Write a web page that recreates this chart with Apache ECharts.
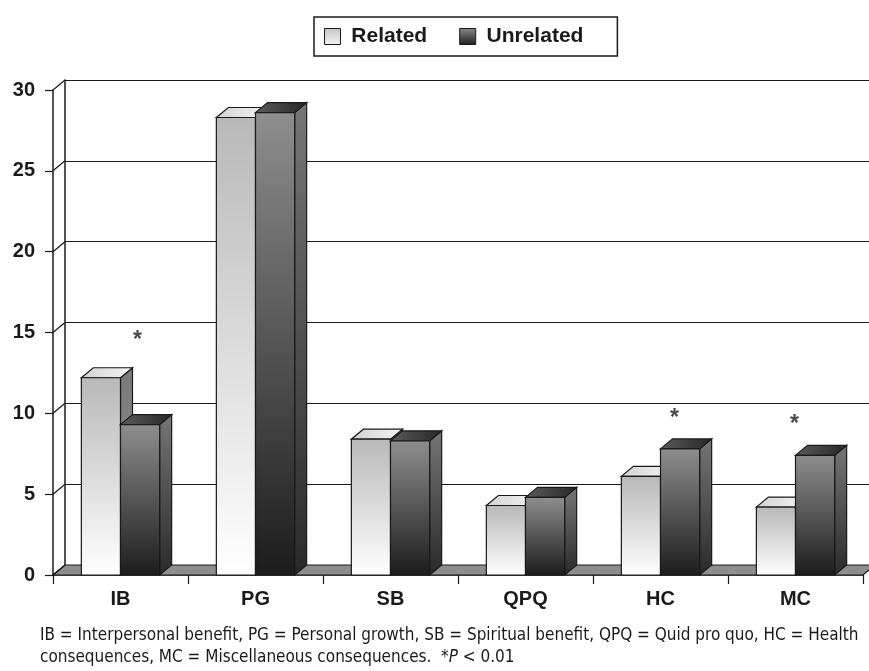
<!DOCTYPE html>
<html>
<head>
<meta charset="utf-8">
<script src="https://cdn.jsdelivr.net/npm/echarts@6/dist/echarts.min.js"></script>
<style>
  html, body { margin: 0; padding: 0; background: #fff; }
  #chart { width: 869px; height: 671px; }
</style>
</head>
<body>
<div id="chart"></div>
<script>
// data
var categories = ['IB', 'PG', 'SB', 'QPQ', 'HC', 'MC'];
var related = [12.2, 28.3, 8.4, 4.3, 6.1, 4.2];
var unrelated = [9.3, 28.6, 8.3, 4.8, 7.8, 7.4];
var seriesNames = ['Related', 'Unrelated'];
var yTicks = [0, 5, 10, 15, 20, 25, 30];
// significance marks: category index and height (in axis units)
var starCats = [0, 4, 5];
var starHeights = [14.5, 9.7, 9.3];
var starShift = [17, 14, -1];

var DX = 12, DY = 10;        // 3d depth offset in px
var BAR_RATIO = 0.29;
var FONT = '"Liberation Sans", Arial, sans-serif';
var NOTE_FONT = '"DejaVu Sans Condensed", "Liberation Sans Narrow", sans-serif';

var myChart = echarts.init(document.getElementById('chart'));

function grad(x2, y2, c1, c2) {
  return new echarts.graphic.LinearGradient(0, 0, x2, y2, [
    { offset: 0, color: c1 },
    { offset: 1, color: c2 }
  ]);
}

var looks = [
  {
    front: grad(0, 1, '#b8b8b8', '#ffffff'),
    top: grad(1, 0, '#d2d2d2', '#f4f4f4'),
    side: grad(0, 1, '#7a7a7a', '#949494'),
    shift: -1
  },
  {
    front: grad(0, 1, '#8e8e8e', '#1c1c1c'),
    top: grad(1, 0, '#5c5c5c', '#262626'),
    side: grad(0, 1, '#767676', '#2a2a2a'),
    shift: 0
  }
];

function barRenderer(look) {
  return function (params, api) {
    var cat = api.value(0);
    var v = api.value(1);
    var base = api.coord([cat, 0]);
    var top = api.coord([cat, v]);
    var bw = api.size([1, 0])[0] * BAR_RATIO;
    var x0 = base[0] + look.shift * bw;
    var x1 = x0 + bw;
    var yt = top[1], yb = base[1];
    var line = { stroke: '#1a1a1a', lineWidth: 1.2 };
    return {
      type: 'group',
      children: [
        {
          type: 'polygon',
          shape: { points: [[x1, yt], [x1 + DX, yt - DY], [x1 + DX, yb - DY], [x1, yb]] },
          style: Object.assign({ fill: look.side }, line)
        },
        {
          type: 'polygon',
          shape: { points: [[x0, yt], [x1, yt], [x1 + DX, yt - DY], [x0 + DX, yt - DY]] },
          style: Object.assign({ fill: look.top }, line)
        },
        {
          type: 'rect',
          shape: { x: x0, y: yt, width: bw, height: yb - yt },
          style: Object.assign({ fill: look.front }, line)
        }
      ]
    };
  };
}

var barSeries = [related, unrelated].map(function (vals, i) {
  return {
    name: seriesNames[i],
    type: 'custom',
    xAxisIndex: 0,
    yAxisIndex: 0,
    z: 3 + i,
    renderItem: barRenderer(looks[i]),
    encode: { x: 0, y: 1 },
    data: vals.map(function (v, k) { return [k, v]; })
  };
});

var option = {
  backgroundColor: '#fff',
  animation: false,
  legend: {
    left: 314,
    top: 17,
    orient: 'horizontal',
    padding: [9, 34, 9, 10],
    borderColor: '#1a1a1a',
    borderWidth: 1.5,
    itemWidth: 16,
    itemHeight: 16,
    itemGap: 32,
    icon: 'rect',
    selectedMode: false,
    formatter: ' {name}',
    textStyle: { fontFamily: FONT, fontWeight: 'bold', fontSize: 21, color: '#1a1a1a' },
    data: [
      { name: 'Related', itemStyle: { color: grad(0, 1, '#c4c4c4', '#f4f4f4'), borderColor: '#1a1a1a', borderWidth: 1 } },
      { name: 'Unrelated', itemStyle: { color: grad(0, 1, '#8a8a8a', '#1e1e1e'), borderColor: '#1a1a1a', borderWidth: 1 } }
    ]
  },
  grid: [
    { left: 53, right: 6, top: 90, bottom: 96 },
    { left: 65, right: -6, top: 80, bottom: 106 }
  ],
  xAxis: [
    {
      type: 'category',
      gridIndex: 0,
      data: categories,
      axisLine: { lineStyle: { color: '#1a1a1a', width: 1.5 } },
      axisTick: { show: true, interval: 0, length: 9, lineStyle: { color: '#1a1a1a', width: 1.2 } },
      axisLabel: { margin: 14, fontFamily: FONT, fontWeight: 'bold', fontSize: 20, color: '#1a1a1a' }
    },
    { type: 'category', gridIndex: 1, data: categories, show: false }
  ],
  yAxis: [
    {
      type: 'value',
      gridIndex: 0,
      min: 0, max: 30, interval: 5,
      axisLine: { show: true, lineStyle: { color: '#1a1a1a', width: 1.5 } },
      axisTick: { show: true, length: 8, lineStyle: { color: '#1a1a1a', width: 1.2 } },
      splitLine: { show: false },
      axisLabel: { margin: 18, fontFamily: FONT, fontWeight: 'bold', fontSize: 20, color: '#1a1a1a' }
    },
    {
      type: 'value',
      gridIndex: 1,
      min: 0, max: 30, interval: 5,
      axisLine: { show: true, lineStyle: { color: '#1a1a1a', width: 1.5 } },
      axisTick: { show: false },
      axisLabel: { show: false },
      splitLine: { show: true, lineStyle: { color: '#1a1a1a', width: 1.2 } }
    }
  ],
  series: [
    {
      // floor of the plot
      type: 'custom',
      silent: true,
      z: 1,
      xAxisIndex: 0,
      yAxisIndex: 0,
      renderItem: function (params, api) {
        var cs = params.coordSys;
        var y0 = api.coord([0, 0])[1];
        return {
          type: 'polygon',
          shape: { points: [[cs.x, y0], [cs.x + cs.width, y0], [cs.x + cs.width + DX, y0 - DY], [cs.x + DX, y0 - DY]] },
          style: { fill: '#8e8e8e', stroke: '#1a1a1a', lineWidth: 1.2 }
        };
      },
      data: [[0, 0]]
    },
    {
      // diagonal links from front ticks to back wall
      type: 'custom',
      silent: true,
      z: 2,
      xAxisIndex: 0,
      yAxisIndex: 0,
      renderItem: function (params, api) {
        var cs = params.coordSys;
        var y = api.coord([0, api.value(1)])[1];
        return {
          type: 'line',
          shape: { x1: cs.x, y1: y, x2: cs.x + DX, y2: y - DY },
          style: { stroke: '#1a1a1a', lineWidth: 1.2 }
        };
      },
      encode: { x: 0, y: 1 },
      data: yTicks.map(function (t) { return [0, t]; })
    }
  ].concat(barSeries).concat([
    {
      type: 'scatter',
      xAxisIndex: 0,
      yAxisIndex: 0,
      symbolSize: 0,
      z: 6,
      silent: true,
      label: {
        show: true,
        position: 'inside',
        formatter: '*',
        fontFamily: FONT,
        fontWeight: 'bold',
        fontSize: 23,
        color: '#1a1a1a'
      },
      data: starCats.map(function (c, k) {
        return { value: [c, starHeights[k]], label: { offset: [starShift[k], 0] } };
      })
    }
  ]),
  graphic: [
    {
      type: 'text',
      left: 40,
      top: 627,
      style: {
        text: 'IB = Interpersonal benefit, PG = Personal growth, SB = Spiritual benefit, QPQ = Quid pro quo, HC = Health',
        font: '17px ' + NOTE_FONT,
        fill: '#1a1a1a'
      }
    },
    {
      type: 'text',
      left: 40,
      top: 649,
      style: {
        text: 'consequences, MC = Miscellaneous consequences.  *{i|P} < 0.01',
        font: '17px ' + NOTE_FONT,
        fill: '#1a1a1a',
        rich: {
          i: { fontStyle: 'italic', fontSize: 17, fontFamily: NOTE_FONT, fill: '#1a1a1a' }
        }
      }
    }
  ]
};

myChart.setOption(option);
</script>
</body>
</html>
